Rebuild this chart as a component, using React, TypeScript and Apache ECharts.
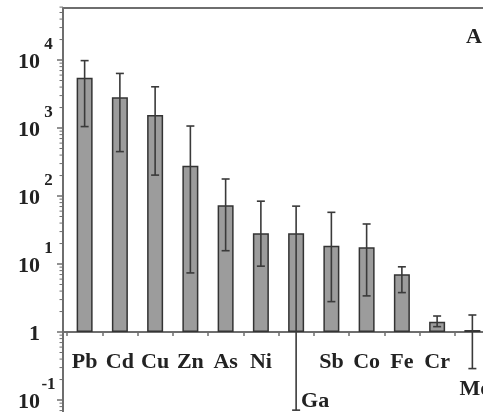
import { useEffect, useRef } from "react";
import * as echarts from "echarts";

// ---- data ----
const categories = ["Pb", "Cd", "Cu", "Zn", "As", "Ni", "Ga", "Sb", "Co", "Fe", "Cr", "Mo"];
const meanValues = [5500, 2830, 1550, 278, 73, 28.3, 28.3, 18.6, 17.6, 7.1, 1.42, 1.07];
const lowerValues = [1050, 450, 203, 7.4, 15.7, 9.3, 0.071, 2.8, 3.4, 3.8, 1.2, 0.29];
const upperValues = [9800, 6350, 4040, 1070, 178, 84, 71, 57.6, 38.8, 9.1, 1.72, 1.78];
const majorTicks = [0.1, 1, 10, 100, 1000, 10000];
const minorTicks = [
  0.07, 0.08, 0.09,
  0.2, 0.3, 0.4, 0.5, 0.6, 0.7, 0.8, 0.9,
  2, 3, 4, 5, 6, 7, 8, 9,
  20, 30, 40, 50, 60, 70, 80, 90,
  200, 300, 400, 500, 600, 700, 800, 900,
  2000, 3000, 4000, 5000, 6000, 7000, 8000, 9000,
  20000, 30000, 40000, 50000, 60000,
];
const panelLabel = "A";

// ---- layout ----
const W = 483;
const H = 412;
const GRID_TOP = 8;
const GRID_BOTTOM = 0;
const GRID_LEFT = 67;
const GRID_RIGHT = -7;
const Y_OFFSET = 4;
const LOG_MIN = -1.176;
const LOG_MAX = 4.765;
const FONT = "'Liberation Serif', 'Times New Roman', serif";
const AXIS_COLOR = "#6e6e6e";
const TEXT_COLOR = "#222";

export default function App() {
  const ref = useRef<HTMLDivElement>(null);

  useEffect(() => {
    if (!ref.current) return;
    const chart = echarts.init(ref.current, undefined, { renderer: "svg" });
    const gridH = H - GRID_TOP - GRID_BOTTOM;
    const xOffset = -Math.round(((0 - LOG_MIN) / (LOG_MAX - LOG_MIN)) * gridH);

    const errData = categories.map((_, i) => [i, lowerValues[i], upperValues[i]]);
    const minorData = minorTicks.map((v) => [0, v]);

    chart.setOption({
      animation: false,
      grid: {
        top: GRID_TOP,
        bottom: GRID_BOTTOM,
        left: GRID_LEFT,
        right: GRID_RIGHT,
        containLabel: false,
        outerBoundsMode: "none",
      },
      xAxis: {
        type: "category",
        data: categories,
        position: "bottom",
        offset: xOffset,
        axisLine: { onZero: false, lineStyle: { color: AXIS_COLOR, width: 2 } },
        axisTick: { show: true, length: 4, lineStyle: { color: AXIS_COLOR, width: 1.5 } },
        axisLabel: {
          interval: 0,
          margin: 17,
          hideOverlap: false,
          color: TEXT_COLOR,
          fontFamily: FONT,
          fontWeight: "bold",
          fontSize: 22,
          formatter: (v: string) => (v === "Ga" ? "{ga|Ga}" : v === "Mo" ? "{mo|Mo}" : v),
          rich: {
            ga: { fontFamily: FONT, fontWeight: "bold", fontSize: 22, color: TEXT_COLOR, padding: [39, 0, 0, 38] },
            mo: { fontFamily: FONT, fontWeight: "bold", fontSize: 22, color: TEXT_COLOR, padding: [27, 0, 0, 6] },
          },
        },
        splitLine: { show: false },
      },
      yAxis: {
        type: "log",
        logBase: 10,
        min: Math.pow(10, LOG_MIN),
        max: Math.pow(10, LOG_MAX),
        offset: Y_OFFSET,
        axisLine: { show: true, lineStyle: { color: AXIS_COLOR, width: 2 } },
        axisTick: { show: true, length: 6, customValues: majorTicks, lineStyle: { color: AXIS_COLOR, width: 1.5 } },
        splitLine: { show: false },
        axisLabel: {
          customValues: majorTicks,
          margin: 6,
          color: TEXT_COLOR,
          fontFamily: FONT,
          fontWeight: "bold",
          fontSize: 22,
          formatter: (v: number) => {
            const e = Math.round(Math.log10(v));
            if (e === 0) return "{b|1}{s| }";
            return `{b|10}{s|${e < 0 ? "-" : ""}${Math.abs(e)}}`;
          },
          rich: {
            b: { fontFamily: FONT, fontWeight: "bold", fontSize: 22, color: TEXT_COLOR },
            s: { fontFamily: FONT, fontWeight: "bold", fontSize: 17, color: TEXT_COLOR, width: 17, align: "left", padding: [0, 0, 34, 0] },
          },
        },
      },
      series: [
        {
          type: "bar",
          data: meanValues,
          barWidth: 16,
          itemStyle: { color: "#9c9c9c", borderColor: "#333", borderWidth: 1.5 },
          z: 2,
        },
        {
          type: "custom",
          data: errData,
          z: 3,
          renderItem: (params: any, api: any) => {
            const i = api.value(0);
            const lo = api.coord([i, api.value(1)]);
            const hi = api.coord([i, api.value(2)]);
            const half = 4;
            const style = { stroke: "#3a3a3a", lineWidth: 1.6 };
            return {
              type: "group",
              children: [
                { type: "line", shape: { x1: hi[0], y1: hi[1], x2: lo[0], y2: lo[1] }, style },
                { type: "line", shape: { x1: hi[0] - half, y1: hi[1], x2: hi[0] + half, y2: hi[1] }, style },
                { type: "line", shape: { x1: lo[0] - half, y1: lo[1], x2: lo[0] + half, y2: lo[1] }, style },
              ],
            };
          },
        },
        {
          type: "custom",
          data: minorData,
          z: 4,
          clip: false,
          renderItem: (params: any, api: any) => {
            const p = api.coord([0, api.value(1)]);
            const axisX = params.coordSys.x - Y_OFFSET;
            return {
              type: "line",
              shape: { x1: axisX - 3.5, y1: p[1], x2: axisX, y2: p[1] },
              style: { stroke: AXIS_COLOR, lineWidth: 1 },
            };
          },
        },
      ],
    });

    const yOne = chart.convertToPixel({ yAxisIndex: 0 }, 1) as number;
    const axisX = GRID_LEFT - Y_OFFSET;
    chart.setOption({
      graphic: [
        { type: "line", shape: { x1: axisX, y1: GRID_TOP, x2: W, y2: GRID_TOP }, style: { stroke: AXIS_COLOR, lineWidth: 2 }, z: 10 },
        { type: "line", shape: { x1: axisX, y1: yOne, x2: GRID_LEFT, y2: yOne }, style: { stroke: AXIS_COLOR, lineWidth: 2 }, z: 10 },
        {
          type: "text",
          x: 466,
          y: 35,
          style: { text: panelLabel, fontFamily: FONT, fontWeight: "bold", fontSize: 22, fill: TEXT_COLOR, align: "left", verticalAlign: "middle" },
        },
      ],
    });

    return () => chart.dispose();
  }, []);

  return <div ref={ref} style={{ position: "fixed", left: 0, top: 0, width: W, height: H }} />;
}
